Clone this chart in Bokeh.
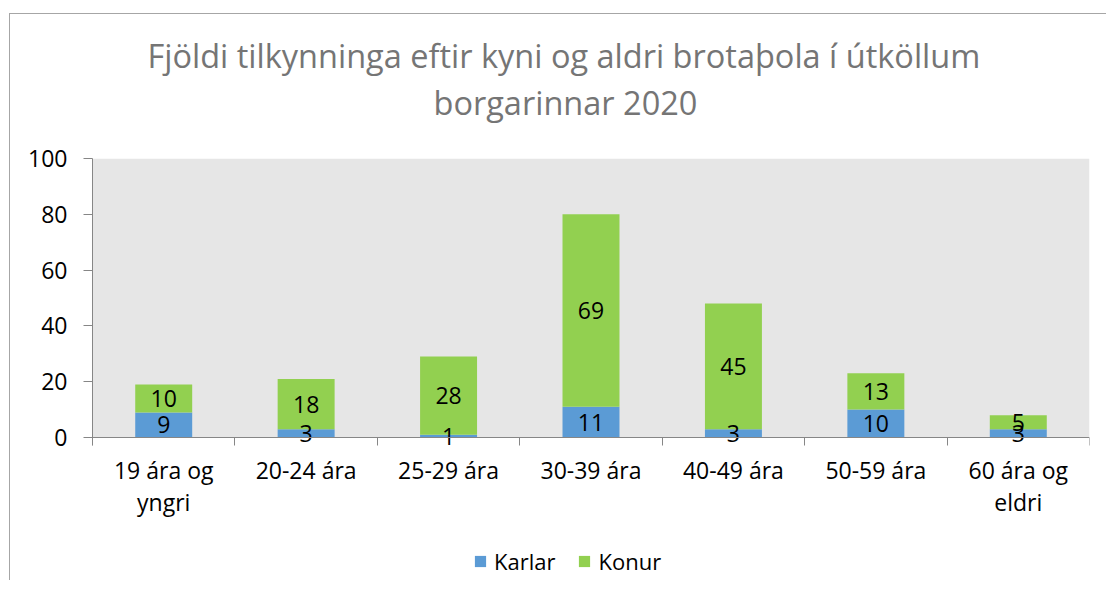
from bokeh.plotting import figure
from bokeh.models import (FixedTicker, Range1d, Legend, LegendItem, ColumnDataSource, Title,
                          BoxAnnotation)
from bokeh.core.properties import value
from bokeh.embed import file_html
from bokeh.resources import INLINE

categories = ["19 ára og\nyngri", "20-24 ára", "25-29 ára", "30-39 ára",
              "40-49 ára", "50-59 ára", "60 ára og\neldri"]
karlar = [9, 3, 1, 11, 3, 10, 3]
konur = [10, 18, 28, 69, 45, 13, 5]
series = ["Karlar", "Konur"]
colors = ["#5B9BD5", "#92D050"]
y_ticks = [0, 20, 40, 60, 80, 100]
title_lines = ["Fjöldi tilkynninga eftir kyni og aldri brotaþola í útköllum",
               "borgarinnar 2020"]

FONT = "Open Sans"
n = len(categories)
xs = [i + 0.5 for i in range(n)]
src = ColumnDataSource(dict(
    x=xs, Karlar=karlar, Konur=konur,
    k_mid=[v / 2 for v in karlar],
    f_mid=[a + b / 2 for a, b in zip(karlar, konur)],
    k_txt=[str(v) for v in karlar],
    f_txt=[str(v) for v in konur],
))

# the frame reaches down to the legend row; the value axis covers 0..100 (279 px)
PX_PER_UNIT = 2.79
FRAME_H = 422
y_lo = 100 - FRAME_H / PX_PER_UNIT

p = figure(frame_width=997, frame_height=FRAME_H, x_range=Range1d(0, n),
           y_range=Range1d(y_lo, 100),
           output_backend="svg", toolbar_location=None,
           min_border_left=82, min_border_right=17, min_border_top=144,
           min_border_bottom=0)
p.styles = {"border-left": "1px solid #A6A6A6", "border-top": "1px solid #A6A6A6",
            "margin-top": "13px", "margin-left": "9px"}
xa = p.xaxis[0]
ya = p.yaxis[0]

p.background_fill_color = "white"
p.border_fill_color = "white"
p.outline_line_color = None
p.xgrid.grid_line_color = None
p.ygrid.grid_line_color = None

# grey plot area between 0 and 100
p.add_layout(BoxAnnotation(bottom=0, top=100, fill_color="#E6E6E6", fill_alpha=1,
                           line_color=None, level="underlay"))

# spacer between the plot area and the two centred title lines
p.add_layout(Title(text=" ", text_font_size="2px", standoff=30), "above")
p.add_layout(Title(text=title_lines[1], align="left", offset=341, standoff=0,
                   text_font=FONT, text_font_size="32.5px", text_font_style="normal",
                   text_color="#757575"), "above")
p.add_layout(Title(text=title_lines[0], align="left", offset=55, standoff=0,
                   text_font=FONT, text_font_size="32.5px", text_font_style="normal",
                   text_color="#757575"), "above")

renderers = p.vbar_stack(series, x="x", width=0.4, color=colors, source=src,
                         line_color=None)

for ycol, tcol in (("k_mid", "k_txt"), ("f_mid", "f_txt")):
    p.text(x="x", y=ycol, text=tcol, source=src, text_align="center",
           text_baseline="middle", text_font=value(FONT), text_font_size="23px",
           text_color="black")

axis_col = "#868686"
xa.fixed_location = 0
xa.ticker = FixedTicker(ticks=xs, minor_ticks=list(range(n + 1)))
xa.major_label_overrides = {x: c for x, c in zip(xs, categories)}
xa.major_tick_out = 0
xa.major_tick_in = 0
xa.minor_tick_out = 8
xa.minor_tick_in = 0
xa.minor_tick_line_color = axis_col
xa.axis_line_color = axis_col
xa.major_label_standoff = 8
xa.major_label_text_font = FONT
xa.major_label_text_font_size = "23px"
xa.major_label_text_line_height = 1.0
xa.major_label_text_color = "black"

ya.ticker = FixedTicker(ticks=y_ticks, minor_ticks=[])
ya.bounds = (-8 / PX_PER_UNIT, 100)
ya.major_tick_out = 9
ya.major_tick_in = 0
ya.major_tick_line_color = axis_col
ya.axis_line_color = axis_col
ya.major_label_standoff = 16
ya.major_label_text_font = FONT
ya.major_label_text_font_size = "23px"
ya.major_label_text_color = "black"

legend = Legend(items=[LegendItem(label=s, renderers=[r]) for s, r in zip(series, renderers)],
                orientation="horizontal", location=(381, 4),
                glyph_width=14, glyph_height=14, label_standoff=7, spacing=22,
                padding=0, margin=0, border_line_color=None, background_fill_alpha=0,
                label_text_font=FONT, label_text_font_size="22px", label_text_color="black")
p.add_layout(legend, "center")

open("out.html", "w").write(file_html(p, INLINE))
